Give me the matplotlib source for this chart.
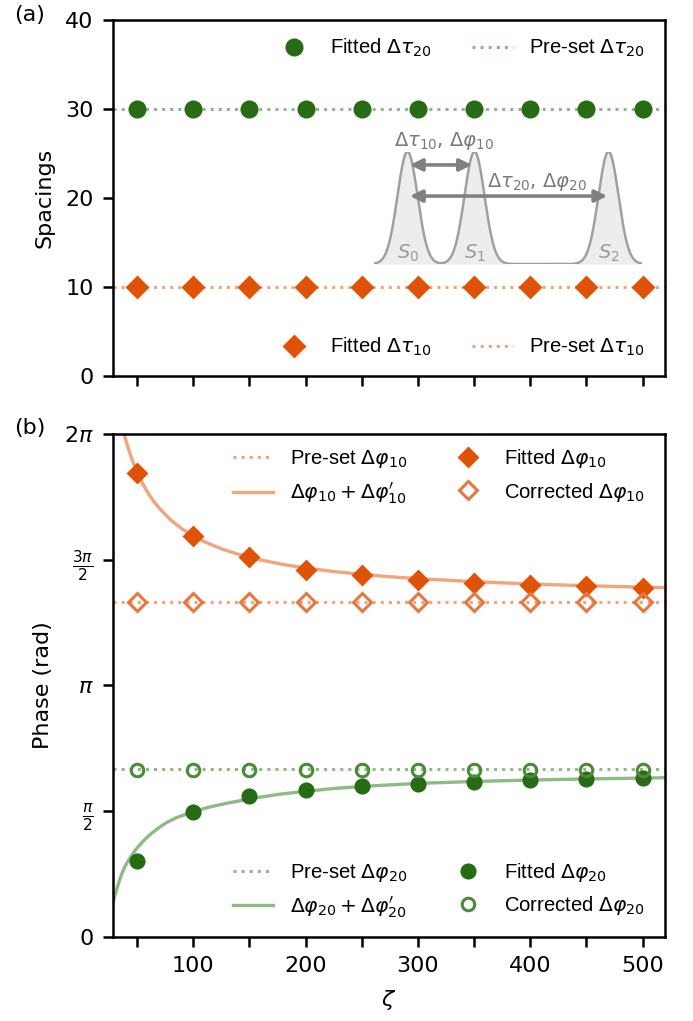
import numpy as np
import matplotlib
matplotlib.use('Agg')
import matplotlib.pyplot as plt

# values
zeta = [50, 100, 150, 200, 250, 300, 350, 400, 450, 500]
fitted_tau20 = [30, 30, 30, 30, 30, 30, 30, 30, 30, 30]
fitted_tau10 = [10, 10, 10, 10, 10, 10, 10, 10, 10, 10]
preset_tau20 = 30
preset_tau10 = 10

preset_phi10 = 4 * np.pi / 3
preset_phi20 = 2 * np.pi / 3
fitted_phi10 = [5.80, 5.01, 4.745, 4.59, 4.52, 4.46, 4.425, 4.40, 4.387, 4.36]
corrected_phi10 = [4.19, 4.19, 4.19, 4.19, 4.19, 4.19, 4.19, 4.19, 4.19, 4.19]
fitted_phi20 = [0.951, 1.558, 1.758, 1.833, 1.887, 1.915, 1.935, 1.965, 1.978, 1.986]
corrected_phi20 = [2.09, 2.09, 2.09, 2.09, 2.09, 2.09, 2.09, 2.09, 2.09, 2.09]

curve10_z = [38.5, 40, 42, 45, 48, 50, 55, 60, 65, 70, 80, 90, 100, 110, 125,
             140, 160, 180, 200, 225, 250, 275, 300, 350, 400, 450, 500, 520]
curve10_v = [6.283, 6.21, 6.115, 5.99, 5.877, 5.81, 5.665, 5.543, 5.44, 5.353,
             5.21, 5.099, 5.01, 4.937, 4.85, 4.781, 4.71, 4.654, 4.61, 4.566,
             4.53, 4.50, 4.477, 4.439, 4.41, 4.388, 4.37, 4.364]
curve20_z = [28.6, 30, 32, 34, 36, 38, 40, 43, 46.7, 50, 55, 61.6, 70, 76.4, 85,
             100, 115, 130, 150, 175, 200, 225, 250, 275, 300, 350, 400, 450,
             500, 520]
curve20_v = [0.42, 0.50, 0.60, 0.69, 0.77, 0.84, 0.90, 0.97, 1.05, 1.11, 1.19,
             1.28, 1.37, 1.43, 1.49, 1.565, 1.625, 1.67, 1.725, 1.78, 1.82,
             1.855, 1.88, 1.90, 1.918, 1.943, 1.96, 1.974, 1.985, 1.99]

# schematic peaks (inset units)
peak_pos = [0, 10, 30]
peak_width = 1.5
peak_names = ['$S_0$', '$S_1$', '$S_2$']

DK_OR = '#e05206'
LT_OR = '#f2a47c'
HO_OR = '#e8773f'
DK_GR = '#276b14'
LT_GR = '#8fba88'
HO_GR = '#4a8a3a'

plt.rcParams['font.size'] = 8
plt.rcParams['axes.linewidth'] = 0.9
leg_font = {'family': 'Liberation Sans', 'size': 7.3}

fig = plt.figure(figsize=(3.465, 5.105), dpi=200)
ax1 = fig.add_axes([0.163, 0.6317, 0.7966, 0.3487])
ax2 = fig.add_axes([0.163, 0.0823, 0.7966, 0.4926])

# ---- (a) spacings
ax1.axhline(preset_tau20, color=LT_GR, ls=':', lw=1.1, label=r'Pre-set $\Delta\tau_{20}$')
ax1.axhline(preset_tau10, color=LT_OR, ls=':', lw=1.1, label=r'Pre-set $\Delta\tau_{10}$')
ax1.plot(zeta, fitted_tau20, 'o', color=DK_GR, ms=5.5, ls='none',
         label=r'Fitted $\Delta\tau_{20}$')
ax1.plot(zeta, fitted_tau10, 'D', color=DK_OR, ms=5, ls='none',
         label=r'Fitted $\Delta\tau_{10}$')
ax1.set_ylim(0, 40)
ax1.set_yticks([0, 10, 20, 30, 40])
ax1.set_ylabel('Spacings')
hs, ls_ = ax1.get_legend_handles_labels()
lg = ax1.legend([hs[2], hs[0]], [ls_[2], ls_[0]], ncol=2, frameon=False,
                prop=leg_font, loc='center right', bbox_to_anchor=(0.964, 0.921),
                borderpad=0, borderaxespad=0)
ax1.add_artist(lg)
ax1.legend([hs[3], hs[1]], [ls_[3], ls_[1]], ncol=2, frameon=False,
           prop=leg_font, loc='center right', bbox_to_anchor=(0.964, 0.081),
           borderpad=0, borderaxespad=0)

# ---- (b) phases
l1 = ax2.axhline(preset_phi10, color=LT_OR, ls=':', lw=1.1)
l2, = ax2.plot(curve10_z, curve10_v, color=LT_OR, lw=1.2)
l3, = ax2.plot(zeta, fitted_phi10, 'D', color=DK_OR, ms=4.5, ls='none')
l4, = ax2.plot(zeta, corrected_phi10, 'D', mfc='none', mec=HO_OR, mew=1.1, ms=4.5, ls='none')
g1 = ax2.axhline(preset_phi20, color=LT_GR, ls=':', lw=1.1)
g2, = ax2.plot(curve20_z, curve20_v, color=LT_GR, lw=1.2)
g3, = ax2.plot(zeta, fitted_phi20, 'o', color=DK_GR, ms=4.8, ls='none')
g4, = ax2.plot(zeta, corrected_phi20, 'o', mfc='none', mec=HO_GR, mew=1.1, ms=4.5, ls='none')

lg2 = ax2.legend([l1, l2, l3, l4],
                 [r'Pre-set $\Delta\varphi_{10}$', r'$\Delta\varphi_{10} + \Delta\varphi_{10}^{\prime}$',
                  r'Fitted $\Delta\varphi_{10}$', r'Corrected $\Delta\varphi_{10}$'],
                 ncol=2, frameon=False, prop=leg_font, loc='center right',
                 bbox_to_anchor=(0.964, 0.915), borderpad=0, borderaxespad=0)
ax2.add_artist(lg2)
ax2.legend([g1, g2, g3, g4],
           [r'Pre-set $\Delta\varphi_{20}$', r'$\Delta\varphi_{20} + \Delta\varphi_{20}^{\prime}$',
            r'Fitted $\Delta\varphi_{20}$', r'Corrected $\Delta\varphi_{20}$'],
           ncol=2, frameon=False, prop=leg_font, loc='center right',
           bbox_to_anchor=(0.964, 0.093), borderpad=0, borderaxespad=0)

ax2.set_ylim(0, 2 * np.pi)
ax2.set_yticks([0, np.pi / 2, np.pi, 3 * np.pi / 2, 2 * np.pi])
ax2.set_yticklabels(['0', r'$\frac{\pi}{2}$', r'$\pi$', r'$\frac{3\pi}{2}$', r'$2\pi$'])
ax2.set_ylabel('Phase (rad)')
ax2.set_xlabel(r'$\zeta$')

for ax in (ax1, ax2):
    ax.set_xlim(28.6, 520)
    ax.set_xticks(zeta)
    ax.tick_params(width=0.9)
ax1.set_xticklabels([])
ax2.set_xticklabels(['' if z % 100 else str(z) for z in zeta])

fig.text(0.02, 0.985, '(a)', ha='left', va='center', fontsize=8)
fig.text(0.02, 0.581, '(b)', ha='left', va='center', fontsize=8)

# ---- schematic of the peaks
ins = fig.add_axes([374 / 693, 1 - 264 / 1021, 268 / 693, 112.3 / 1021])
ins.set_xlim(-5, 35)
ins.set_ylim(0, 1)
ins.axis('off')
xs = np.linspace(-5, 35, 800)
ys = sum(np.exp(-0.5 * ((xs - p) / peak_width) ** 2) for p in peak_pos)
ins.fill_between(xs, 0, ys, color='#ededed', lw=0)
ins.plot(xs, ys, color='#a0a0a0', lw=0.9)
for p, name in zip(peak_pos, peak_names):
    ins.text(p + 0.1, 0.095, name, ha='center', va='center', color='#9a9a9a', fontsize=7)
arrow = dict(arrowstyle='<|-|>', color='#808080', lw=1.3, mutation_scale=9,
             shrinkA=0, shrinkB=0)
ins.annotate('', xy=(9.6, 0.882), xytext=(0.37, 0.882), arrowprops=arrow,
             annotation_clip=False)
ins.annotate('', xy=(29.8, 0.605), xytext=(0.37, 0.605), arrowprops=arrow,
             annotation_clip=False)
ins.text(5.45, 1.098, r'$\Delta\tau_{10}$, $\Delta\varphi_{10}$', ha='center', va='center',
         color='#7a7a7a', fontsize=7, clip_on=False)
ins.text(19.3, 0.733, r'$\Delta\tau_{20}$, $\Delta\varphi_{20}$', ha='center', va='center',
         color='#7a7a7a', fontsize=7, clip_on=False)

fig.savefig('out.png', dpi=200)
